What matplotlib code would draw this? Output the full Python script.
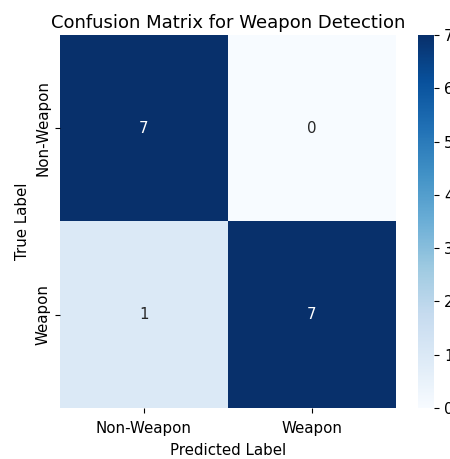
import numpy as np
import matplotlib
matplotlib.use("Agg")
import matplotlib.pyplot as plt
import seaborn as sns

labels = ["Non-Weapon", "Weapon"]
cm = np.array([[7, 0],
               [1, 7]])

plt.rcParams["font.size"] = 10.8

fig = plt.figure(figsize=(4.5, 4.59), dpi=100)
ax = fig.add_axes([0.133, 0.111, 0.747, 0.813])
cax = fig.add_axes([0.929, 0.111, 0.036, 0.813])

sns.heatmap(cm, annot=True, fmt="d", cmap="Blues", xticklabels=labels,
            yticklabels=labels, ax=ax, cbar_ax=cax,
            annot_kws={"fontsize": 10.8})
ax.set_title("Confusion Matrix for Weapon Detection", fontsize=13, pad=5)
ax.set_xlabel("Predicted Label", fontsize=10.8, labelpad=5)
ax.set_ylabel("True Label", fontsize=10.8)
ax.tick_params(labelsize=10.8)
ax.tick_params(axis="x", pad=6)
cax.tick_params(labelsize=10.8)

fig.savefig("out.png", dpi=100)
